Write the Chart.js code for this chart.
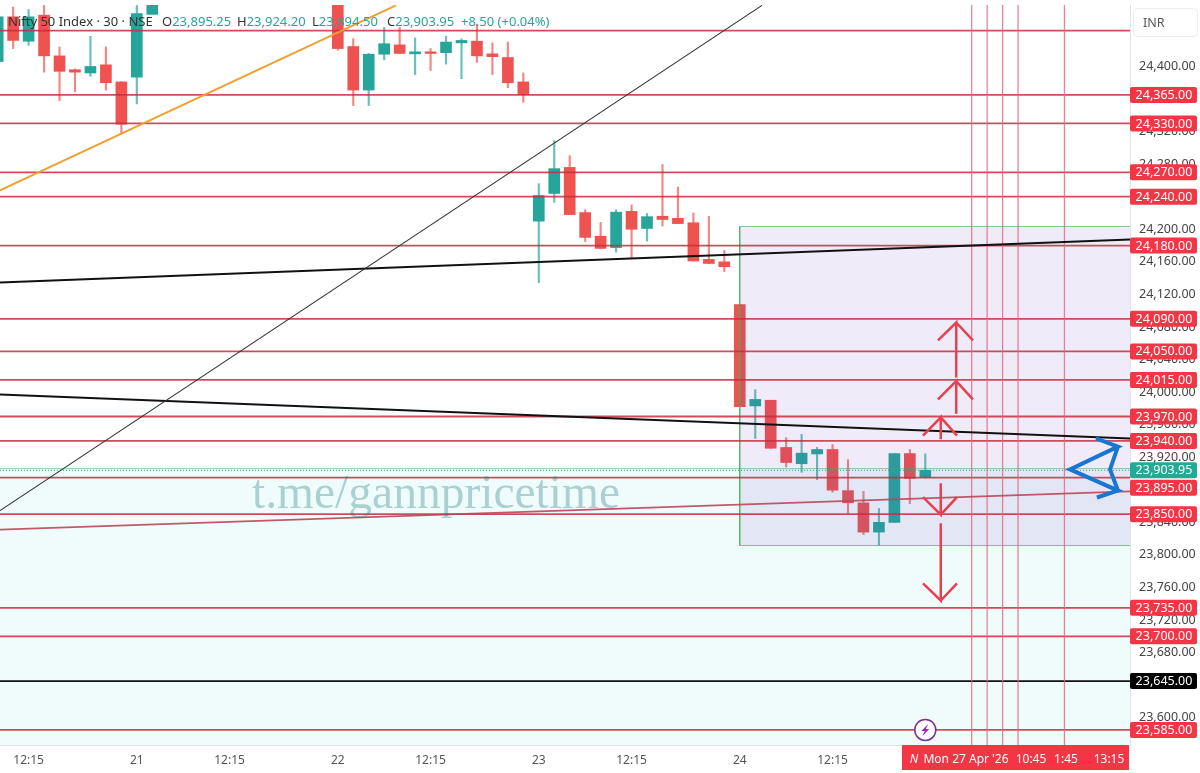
<!DOCTYPE html>
<html>
<head>
<meta charset="utf-8">
<title>Nifty 50 Index 30</title>
<script src="https://cdn.jsdelivr.net/npm/chart.js@4"></script>
<style>
    html, body { margin: 0; padding: 0; background: #fff; }
    canvas { display: block; }
</style>
</head>
<body>
<canvas id="myChart" width="1200" height="773"></canvas>
<script>
// Candles, one 30 minute slot per entry (slot 9 = 21st 09:15, slots above the view are left out)
const slots  = [0, 1, 2, 3, 4, 5, 6, 7, 8, 9, 10, 22, 23, 24, 25, 26, 27, 28, 29, 30, 31, 32, 33, 34, 35, 36, 37, 38, 39, 40, 41, 42, 43, 44, 45, 46, 47, 48, 49, 50, 51, 52, 53, 54, 55, 56, 57, 58, 59, 60];
const opens  = [24406, 24461, 24431, 24463, 24413, 24396, 24392, 24402, 24381, 24387, 24464, 24495, 24424.5, 24371, 24415, 24426.5, 24415.5, 24418, 24417, 24429, 24431, 24415.5, 24411, 24381, 24210, 24244, 24276, 24220.5, 24191.5, 24177.5, 24222, 24201, 24216, 24213.5, 24208, 24163, 24160, 24107.5, 23983, 23990, 23932, 23912, 23924, 23929.5, 23879, 23864, 23828, 23840, 23924.5, 23895.25];
const highs  = [24475, 24473, 24470, 24475, 24424, 24397, 24437, 24424, 24381.5, 24475, 24500, 24500, 24434, 24416, 24448, 24448, 24435, 24422, 24437, 24434, 24452, 24429, 24430, 24392, 24256, 24309, 24290.5, 24224, 24208.5, 24224, 24230, 24219.5, 24279.5, 24252, 24220, 24216, 24174, 24107.5, 24003, 23990, 23944, 23948, 23932, 23935.5, 23917, 23878, 23857, 23924.5, 23929.5, 23924.2];
const lows   = [24400, 24422, 24426, 24393, 24358, 24369, 24388, 24371, 24317, 24354, 24464, 24420, 24352, 24352, 24408, 24416, 24390, 24395, 24403, 24385, 24405, 24390, 24374, 24356, 24134.5, 24233, 24218, 24185, 24176, 24172, 24165, 24185.5, 24204, 24207, 24161, 24158, 24148, 23982, 23943, 23931, 23908, 23901.5, 23892.5, 23877, 23851, 23825, 23811.5, 23840, 23863, 23894.5];
const closes = [24461, 24432, 24461, 24413, 24394, 24393, 24400, 24380, 24329, 24465, 24495, 24422, 24371, 24415, 24428, 24416, 24418, 24416, 24430, 24432, 24413, 24412, 24380, 24365.5, 24241.5, 24274.5, 24218, 24190, 24176.5, 24221, 24200, 24215.5, 24212, 24207, 24161, 24158, 24154, 23982, 23991, 23931, 23913.5, 23925, 23929.5, 23879.5, 23864, 23828, 23840, 23924.5, 23894, 23903.95];

// Axis ticks
const timeTickSlots = [2, 9, 15, 22, 28, 35, 41, 48, 54];
const timeTickLabels = ['12:15', '21', '12:15', '22', '12:15', '23', '12:15', '24', '12:15'];
const priceTicks = [24400, 24320, 24280, 24200, 24160, 24120, 24080, 24040, 24000, 23960, 23920, 23840, 23800, 23760, 23720, 23680, 23600];

// Horizontal levels
const redLevels = [24444, 24365, 24330, 24270, 24240, 24180, 24090, 24050, 24015, 23970, 23940, 23895, 23850, 23735, 23700, 23585];
const taggedLevels = [24365, 24330, 24270, 24240, 24180, 24090, 24050, 24015, 23970, 23940, 23895, 23850, 23735, 23700, 23585];
const blackLevel = 23645;
const lastPrice = 23903.95;

// Vertical time lines
const timeLines = [63, 64, 65, 66, 69];

// Drawings, in [slot, price]
const orangeTrend = [[0.15, 24247.7], [25.76, 24475]];
const thinTrend = [[0.15, 23854.5], [49.44, 24475]];
const upperTrend = [[0.15, 24134.6], [73.24, 24187.4]];
const lowerTrend = [[0.15, 23997], [73.24, 23943]];
const roseTrend = [[0.15, 23831], [73.24, 23878]];
const arrowUp1 = [[62, 24018], [62, 24085.5], [60.82, 24063.5], [62, 24085.5], [63.08, 24063.5]];
const arrowUp2 = [[62, 23973.5], [62, 24013.5], [60.82, 23991], [62, 24013.5], [63.08, 23991]];
const arrowUp3 = [[61, 23942], [61, 23969], [59.85, 23946.5], [61, 23969], [62.05, 23946.5]];
const arrowDown1 = [[61, 23888], [61, 23849.5], [59.85, 23871], [61, 23849.5], [62.05, 23871]];
const arrowDown2 = [[61, 23839], [61, 23744], [59.85, 23765], [61, 23744], [62.05, 23765]];
const blueMark = [[71.04, 23943], [72.46, 23933], [69.36, 23905], [72.46, 23879], [71.1, 23870.5], [72.46, 23879], [71.95, 23905], [72.46, 23933]];

// Zones
const boxStartSlot = 48;
const boxTop = 24203.5;
const boxBottom = 23811.5;
const zoneTop = 23906;

// View limits
const slotMin = 0.15;
const slotMax = 73.24;
const priceMin = 23566.5;
const priceMax = 24475.5;

const fontName = '"Noto Sans", sans-serif';
const RED = '#ef5350';
const TEAL = '#26a69a';
const LEVEL_RED = 'rgba(200, 45, 65, 0.85)';
const TAG_RED = '#f23645';

function toPoints(pairs) {
    return pairs.map(p => ({ x: p[0], y: p[1] }));
}

function lineSet(pairs, color, width, order, extra) {
    return Object.assign({
        type: 'line',
        data: toPoints(pairs),
        borderColor: color,
        borderWidth: width,
        pointRadius: 0,
        tension: 0,
        fill: false,
        order: order
    }, extra || {});
}

// Build the datasets
const candleColors = closes.map((c, i) => c >= opens[i] ? TEAL : RED);
const datasets = [];

// wicks and bodies sit under everything else
datasets.push({
    type: 'bar',
    data: slots.map((s, i) => ({ x: s, y: [lows[i], highs[i]] })),
    backgroundColor: candleColors.map(c => c === RED ? 'rgba(239, 83, 80, 0.7)' : 'rgba(38, 166, 154, 0.7)'),
    barThickness: 1.5,
    grouped: false,
    order: 21
});
datasets.push({
    type: 'bar',
    data: slots.map((s, i) => ({ x: s, y: [opens[i], closes[i]] })),
    backgroundColor: candleColors,
    barThickness: 11,
    grouped: false,
    order: 20
});

// zones
datasets.push(lineSet([[slotMin, zoneTop], [slotMax, zoneTop]], 'rgba(76, 175, 80, 0.55)', 1, 15, {
    fill: { value: priceMin },
    backgroundColor: 'rgba(0, 188, 212, 0.06)'
}));
datasets.push(lineSet([[boxStartSlot, boxTop], [slotMax, boxTop]], 'rgba(0, 0, 0, 0)', 0, 14, {
    fill: { value: boxBottom },
    backgroundColor: 'rgba(103, 58, 183, 0.1)'
}));
datasets.push(lineSet([[slotMax, boxTop], [boxStartSlot, boxTop], [boxStartSlot, boxBottom], [slotMax, boxBottom]], 'rgba(76, 175, 80, 0.7)', 1, 13));

// last price
datasets.push(lineSet([[slotMin, lastPrice], [slotMax, lastPrice]], TEAL, 1, 12, { borderDash: [1, 2] }));

// levels and time lines
redLevels.forEach(level => {
    datasets.push(lineSet([[slotMin, level], [slotMax, level]], LEVEL_RED, 1.8, 8));
});
datasets.push(lineSet([[slotMin, blackLevel], [slotMax, blackLevel]], '#111', 1.6, 8));
timeLines.forEach(slot => {
    datasets.push(lineSet([[slot, priceMin], [slot, priceMax]], 'rgba(226, 100, 125, 0.8)', 1.3, 7));
});

// trend lines
datasets.push(lineSet(orangeTrend, '#f0a030', 2, 6));
datasets.push(lineSet(thinTrend, '#333', 1.1, 6));
datasets.push(lineSet(upperTrend, '#111', 2, 6));
datasets.push(lineSet(lowerTrend, '#111', 2, 6));
datasets.push(lineSet(roseTrend, 'rgba(190, 70, 90, 0.9)', 1.8, 6));

// hand drawn arrows
[arrowUp1, arrowUp2, arrowUp3, arrowDown1, arrowDown2].forEach(arrow => {
    datasets.push(lineSet(arrow, '#e8404f', 2.5, 3));
});
datasets.push(lineSet(blueMark, '#1976d2', 4, 2));

// Text and tags around the plot
function drawTag(ctx, y, fill, label) {
    ctx.fillStyle = fill;
    ctx.beginPath();
    ctx.roundRect(1130, y - 8, 67, 16, 2);
    ctx.fill();
    ctx.fillStyle = '#fff';
    ctx.textAlign = 'center';
    ctx.textBaseline = 'middle';
    ctx.fillText(label, 1164, y + 0.5);
}

function priceLabel(value) {
    return value.toLocaleString('en-US', { minimumFractionDigits: 2, maximumFractionDigits: 2 });
}

const overlayPlugin = {
    id: 'overlay',
    afterDatasetsDraw(chart) {
        const ctx = chart.ctx;
        ctx.save();

        // watermark
        ctx.font = '47.5px "Liberation Serif", serif';
        ctx.fillStyle = 'rgba(20, 120, 120, 0.32)';
        ctx.textAlign = 'left';
        ctx.textBaseline = 'alphabetic';
        ctx.fillText('t.me/gannpricetime', 252, 508);

        // symbol header
        ctx.font = '13px ' + fontName;
        ctx.textBaseline = 'middle';
        ctx.fillStyle = '#333';
        ctx.fillText('Nifty 50 Index · 30 · NSE', 8, 22);
        const headerParts = [['O', 162, '23,895.25'], ['H', 237, '23,924.20'], ['L', 312, '23,894.50'], ['C', 387, '23,903.95']];
        headerParts.forEach(part => {
            ctx.fillStyle = '#333';
            ctx.fillText(part[0], part[1], 22);
            ctx.fillStyle = TEAL;
            ctx.fillText(part[2], part[1] + ctx.measureText(part[0]).width, 22);
        });
        ctx.fillStyle = TEAL;
        ctx.fillText('+8.50 (+0.04%)', 461, 22);

        // alert icon
        const iconX = chart.scales.x.getPixelForValue(60);
        const iconY = chart.scales.y.getPixelForValue(23585);
        ctx.beginPath();
        ctx.arc(iconX, iconY, 10.5, 0, Math.PI * 2);
        ctx.fillStyle = '#fff';
        ctx.fill();
        ctx.strokeStyle = '#7b2d9e';
        ctx.lineWidth = 1.5;
        ctx.stroke();
        ctx.fillStyle = '#a020c0';
        ctx.beginPath();
        ctx.moveTo(iconX + 3, iconY - 6);
        ctx.lineTo(iconX - 4, iconY + 1);
        ctx.lineTo(iconX - 0.5, iconY + 1);
        ctx.lineTo(iconX - 3, iconY + 6);
        ctx.lineTo(iconX + 4, iconY - 1);
        ctx.lineTo(iconX + 0.5, iconY - 1);
        ctx.closePath();
        ctx.fill();
        ctx.restore();
    },
    afterDraw(chart) {
        const ctx = chart.ctx;
        const yScale = chart.scales.y;
        const lastY = yScale.getPixelForValue(lastPrice);
        ctx.save();
        ctx.font = '12.5px ' + fontName;

        // price tags, a tag that would hit the last price one is pushed below it
        taggedLevels.forEach(level => {
            let y = yScale.getPixelForValue(level);
            if (Math.abs(y - lastY) < 16) {
                y = lastY + 17.5;
            }
            drawTag(ctx, y, TAG_RED, priceLabel(level));
        });
        drawTag(ctx, yScale.getPixelForValue(blackLevel), '#000', priceLabel(blackLevel));
        drawTag(ctx, lastY, '#22ab94', priceLabel(lastPrice));

        // currency button
        ctx.fillStyle = '#fff';
        ctx.strokeStyle = '#eceef2';
        ctx.lineWidth = 1;
        ctx.beginPath();
        ctx.roundRect(1133.5, 8.5, 64, 28, 4);
        ctx.fill();
        ctx.stroke();
        ctx.fillStyle = '#555';
        ctx.textAlign = 'left';
        ctx.textBaseline = 'middle';
        ctx.fillText('INR', 1143, 23);

        // time tags along the bottom
        ctx.fillStyle = TAG_RED;
        ctx.fillRect(902, 745, 227, 25);
        ctx.fillStyle = '#fff';
        ctx.font = 'italic 12px ' + fontName;
        ctx.textAlign = 'center';
        ctx.fillText('N', 914, 760);
        ctx.font = '12px ' + fontName;
        ctx.fillText("Mon 27 Apr '26", 966, 760);
        ctx.fillText('10:45', 1031, 760);
        ctx.fillText('1:45', 1066, 760);
        ctx.fillText('13:15', 1109, 760);
        ctx.restore();
    }
};

// Initialize Chart
new Chart(document.getElementById('myChart'), {
    type: 'bar',
    data: { datasets: datasets },
    plugins: [overlayPlugin],
    options: {
        responsive: false,
        animation: false,
        events: [],
        layout: { padding: { top: 5, left: 0, right: 0, bottom: 0 } },
        plugins: {
            legend: { display: false },
            title: { display: false },
            tooltip: { enabled: false }
        },
        scales: {
            x: {
                type: 'linear',
                offset: false,
                min: slotMin,
                max: slotMax,
                grid: { display: false, drawTicks: false },
                border: { color: '#e0e3eb' },
                afterFit(scale) {
                    scale.height = 28;
                    scale.paddingLeft = 0;
                    scale.paddingRight = 0;
                },
                afterBuildTicks(scale) {
                    scale.ticks = timeTickSlots.map(s => ({ value: s }));
                },
                ticks: {
                    autoSkip: false,
                    maxRotation: 0,
                    padding: 8,
                    color: '#555',
                    font: { family: fontName, size: 12 },
                    callback: value => timeTickLabels[timeTickSlots.indexOf(value)]
                }
            },
            y: {
                position: 'right',
                min: priceMin,
                max: priceMax,
                grid: { display: false, drawTicks: false },
                border: { color: '#e0e3eb' },
                afterFit(scale) {
                    scale.width = 70;
                    scale.paddingTop = 0;
                    scale.paddingBottom = 0;
                },
                afterBuildTicks(scale) {
                    scale.ticks = priceTicks.map(v => ({ value: v }));
                },
                ticks: {
                    autoSkip: false,
                    padding: 9,
                    color: '#444',
                    font: { family: fontName, size: 12.5 },
                    callback: value => priceLabel(value)
                }
            }
        }
    }
});
</script>
</body>
</html>
